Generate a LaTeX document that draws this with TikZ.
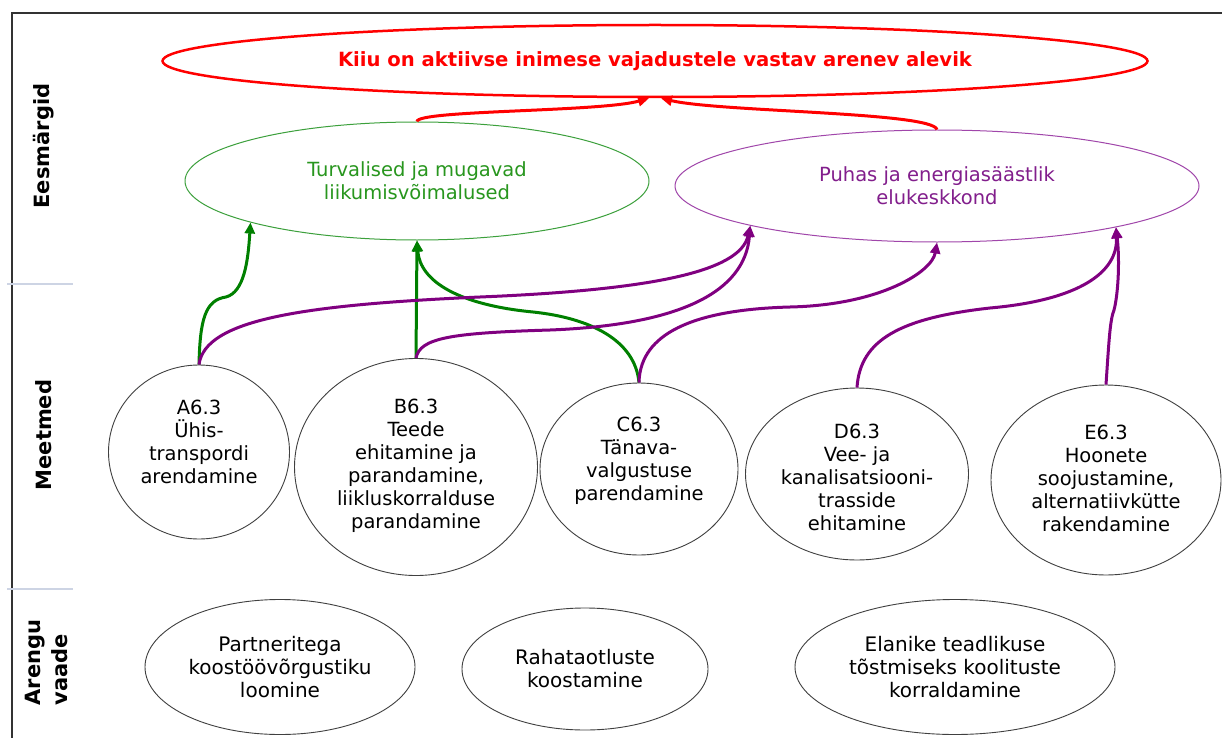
\documentclass[tikz,border=0pt]{standalone}
\usepackage{fontspec}
\setmainfont{DejaVu Sans}
\newfontfamily\vfont{DejaVu Sans}
\usetikzlibrary{shapes.geometric,arrows.meta}
\definecolor{gline}{RGB}{60,160,60}
\definecolor{gtext}{RGB}{40,150,30}
\definecolor{garrow}{RGB}{0,128,0}
\definecolor{pline}{RGB}{160,70,170}
\definecolor{ptext}{RGB}{130,30,140}
\definecolor{parrow}{RGB}{128,0,128}
\definecolor{sepc}{RGB}{205,212,228}
\definecolor{framec}{RGB}{50,50,50}
\begin{document}
\begin{tikzpicture}[x=1pt,y=-1pt,
  shp/.style={ellipse,draw=black!75,line width=0.9pt,inner sep=0pt},
  lab/.style={rotate=90,font=\vfont\bfseries\fontsize{21}{27}\selectfont,align=left},
  vtxt/.style={align=center,font=\vfont\fontsize{19.5}{23}\selectfont},
  ttxt/.style={align=center,font=\vfont\fontsize{19.5}{23}\selectfont},
  ctxt/.style={align=center,font=\vfont\fontsize{20}{23}\selectfont},
  garr/.style={draw=garrow,line width=3pt,-{Triangle[length=11pt,width=10pt]}},
  parr/.style={draw=parrow,line width=3pt,-{Triangle[length=11pt,width=10pt]}},
  rarr/.style={draw=red,line width=3pt,-{Triangle[length=11pt,width=10pt]}}]
\useasboundingbox (0,0) rectangle (1222,738);
\fill[white] (0,0) rectangle (1222,738);
% frame
\draw[framec,line width=1.5pt] (1222,13) -- (12,13) -- (12,738);
\draw[sepc,line width=1.5pt] (7,284) -- (73,284);
\draw[sepc,line width=1.5pt] (7,589) -- (73,589);
% row labels
\node[lab] (L1) at (44,146) {Eesmärgid};
\node[lab] (L2) at (44,435) {Meetmed};
\node[lab,anchor=west] (L3) at (46,709) {Arengu\\vaade};
% top goal
\node[shp,draw=red,line width=2.5pt,minimum width=985pt,minimum height=72pt,
  text=red,font=\vfont\bfseries\fontsize{19.6}{24}\selectfont] (T) at (655,61)
  {Kiiu on aktiivse inimese vajadustele vastav arenev alevik};
% goals
\node[shp,draw=gline,line width=1pt,minimum width=464pt,minimum height=118pt,
  text=gtext,vtxt] (G) at (417,181) {Turvalised ja mugavad\\liikumisvõimalused};
\node[shp,draw=pline,line width=1pt,minimum width=524pt,minimum height=112pt,
  text=ptext,vtxt] (P) at (937,186) {Puhas ja energiasäästlik\\elukeskkond};
% measures
\node[shp,minimum width=181pt,minimum height=174pt] (A) at (199,452) {};
\node[vtxt] (At) at (199,442) {A6.3\\Ühis-\\transpordi\\arendamine};
\node[shp,minimum width=243pt,minimum height=217pt] (B) at (416,467) {};
\node[vtxt] (Bt) at (416,466) {B6.3\\Teede\\ehitamine ja\\parandamine,\\liikluskorralduse\\parandamine};
\node[shp,minimum width=198pt,minimum height=172pt] (C) at (639,469) {};
\node[ttxt] (Ct) at (639,461) {C6.3\\Tänava-\\valgustuse\\parendamine};
\node[shp,minimum width=223pt,minimum height=172pt] (D) at (857,474) {};
\node[ttxt] (Dt) at (857,477) {D6.3\\Vee- ja\\kanalisatsiooni-\\trasside\\ehitamine};
\node[shp,minimum width=230pt,minimum height=190pt] (E) at (1106,480) {};
\node[ttxt] (Et) at (1106,478) {E6.3\\Hoonete\\soojustamine,\\alternatiivkütte\\rakendamine};
% development view
\node[shp,minimum width=270pt,minimum height=135pt,ctxt] (R1) at (280,667) {Partneritega\\koostöövõrgustiku\\loomine};
\node[shp,minimum width=246pt,minimum height=122pt,ctxt] (R2) at (585,669) {Rahataotluste\\koostamine};
\node[shp,minimum width=320pt,minimum height=135pt,ctxt] (R3) at (955,667) {Elanike teadlikuse\\tõstmiseks koolituste\\korraldamine};
% red arrows
\draw[rarr] (G.north) .. controls (417,110) and (600,112) .. ([xshift=-6pt]T.south);
\draw[rarr] (P.north) .. controls (932,112) and (720,112) .. ([xshift=6pt]T.south);
% green arrows
\draw[garr] (A.north) .. controls (200,320) and (205,300) .. (226,297) .. controls (244,292) and (248,262) .. (G.194);
\draw[garr] (B.north) -- (G.south);
\draw[garr] (C.north) .. controls (635,340) and (590,318) .. (533,312) .. controls (460,305) and (420,282) .. (G.south);
% purple arrows
\draw[parr] (A.north) .. controls (205,320) and (300,305) .. (480,297) .. controls (650,290) and (740,272) .. (P.192);
\draw[parr] (B.north) .. controls (420,338) and (450,333) .. (550,330) .. controls (680,325) and (745,292) .. (P.192);
\draw[parr] (C.north) .. controls (640,340) and (680,310) .. (790,307) .. controls (880,305) and (932,272) .. (P.south);
\draw[parr] (D.north) .. controls (860,340) and (900,318) .. (990,308) .. controls (1080,300) and (1118,272) .. (P.347.5);
\draw[parr] (E.north) .. controls (1109,340) and (1110,320) .. (1114,310) .. controls (1118,295) and (1120,262) .. (P.347.5);
\end{tikzpicture}
\end{document}
